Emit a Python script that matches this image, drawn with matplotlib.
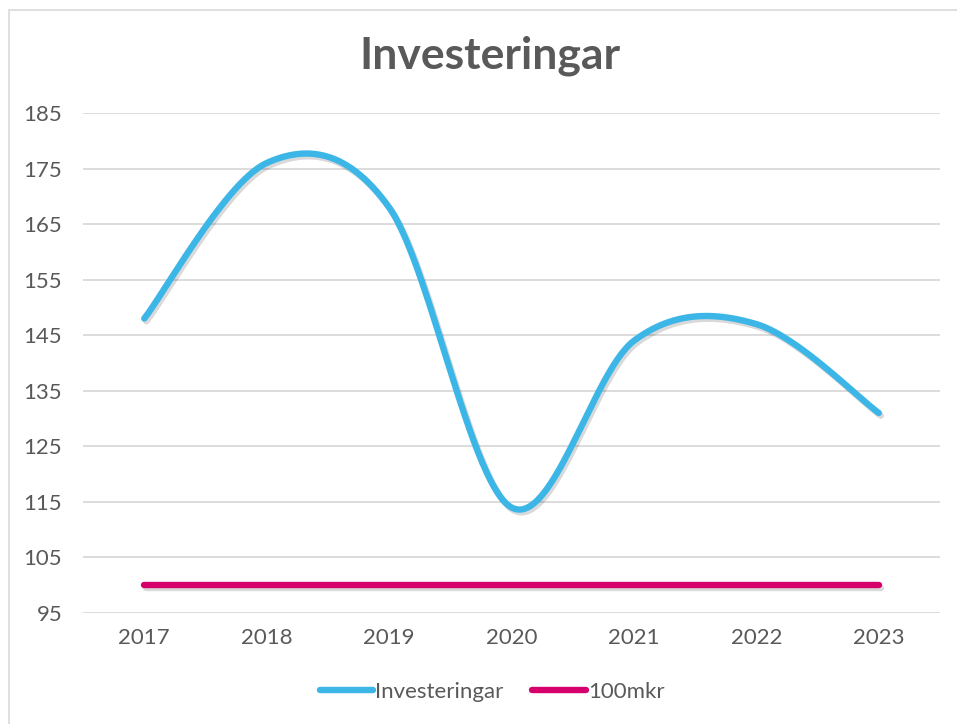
import numpy as np
import matplotlib
matplotlib.use("Agg")
import matplotlib.pyplot as plt
import matplotlib.patheffects as pe
from matplotlib.patches import Rectangle

plt.rcParams['font.family'] = ['Lato', 'DejaVu Sans']

years = ["2017", "2018", "2019", "2020", "2021", "2022", "2023"]
investeringar = [148, 176, 168, 114, 144, 147, 131]
ref_level = [100, 100, 100, 100, 100, 100, 100]
yticks = [95, 105, 115, 125, 135, 145, 155, 165, 175, 185]

blue = "#3CB6E6"
pink = "#D6006C"
text_gray = "#595959"
grid_gray = "#D9D9D9"


def smooth(xs, ys, n=60):
    """Catmull-Rom spline through the points, drawn as cubic Bezier segments."""
    xs = np.asarray(xs, float)
    ys = np.asarray(ys, float)
    px = np.concatenate([[xs[0]], xs, [xs[-1]]])
    py = np.concatenate([[ys[0]], ys, [ys[-1]]])
    out_x, out_y = [], []
    t = np.linspace(0, 1, n)
    for i in range(1, len(px) - 2):
        p0 = np.array([px[i - 1], py[i - 1]])
        p1 = np.array([px[i], py[i]])
        p2 = np.array([px[i + 1], py[i + 1]])
        p3 = np.array([px[i + 2], py[i + 2]])
        c1 = p1 + (p2 - p0) / 6
        c2 = p2 - (p3 - p1) / 6
        b = ((1 - t) ** 3)[:, None] * p1 + (3 * (1 - t) ** 2 * t)[:, None] * c1 \
            + (3 * (1 - t) * t ** 2)[:, None] * c2 + (t ** 3)[:, None] * p2
        out_x.extend(b[:, 0])
        out_y.extend(b[:, 1])
    return np.array(out_x), np.array(out_y)


fig = plt.figure(figsize=(9.57, 7.24), dpi=100)
fig.patch.set_facecolor("white")
fig.patches.append(Rectangle((9 / 957, -0.1), 1.2, 1 - 10 / 724 + 0.1,
                             transform=fig.transFigure, fill=False,
                             edgecolor=grid_gray, linewidth=1.2))

ax = fig.add_axes([83 / 957, 1 - 613 / 724, (940 - 83) / 957, (613 - 113) / 724])
x = np.arange(len(years))

shadow = [pe.SimpleLineShadow(offset=(1.5, -2), shadow_color="black", alpha=0.15), pe.Normal()]

sx, sy = smooth(x, investeringar)
ax.plot(sx, sy, color=blue, linewidth=4.6, solid_capstyle="round",
        solid_joinstyle="round", path_effects=shadow, label="Investeringar", zorder=3)
ax.plot(x, ref_level, color=pink, linewidth=4.6, solid_capstyle="round",
        path_effects=shadow, label="100mkr", zorder=3)

ax.set_xlim(-0.5, len(years) - 0.5)
ax.set_ylim(95, 185)
ax.set_yticks(yticks)
ax.set_xticks(x)
ax.set_xticklabels(years)
ax.grid(axis="y", color=grid_gray, linewidth=1.3)
ax.set_axisbelow(True)
for s in ax.spines.values():
    s.set_visible(False)
ax.tick_params(axis="both", length=0, labelsize=16, labelcolor=text_gray)
ax.tick_params(axis="y", pad=15)
ax.tick_params(axis="x", pad=11)

fig.text(490 / 957, 1 - 56 / 724, "Investeringar", ha="center", va="center",
         fontsize=32, fontweight="bold", color=text_gray)

leg = fig.legend(loc="center", bbox_to_anchor=(492 / 957, 1 - 692 / 724), ncol=2,
                 frameon=False, fontsize=16, handlelength=2.4, handletextpad=0.1,
                 columnspacing=1.3, labelcolor=text_gray)
for h in leg.legend_handles:
    h.set_path_effects([])
    h.set_solid_capstyle("round")

fig.savefig("out.png", dpi=100, facecolor="white")
